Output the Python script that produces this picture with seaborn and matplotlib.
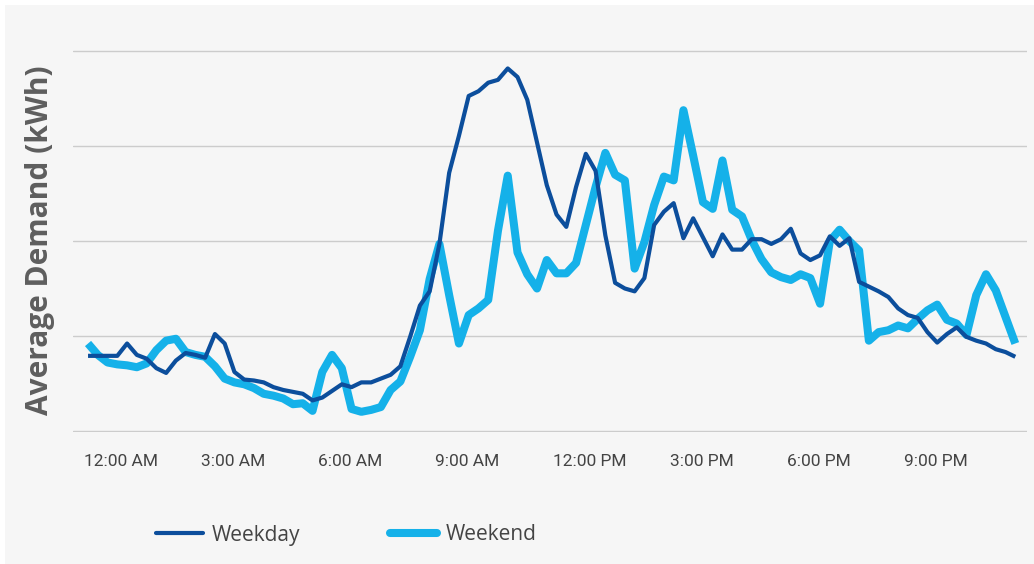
import matplotlib.pyplot as plt
import matplotlib.transforms as mtransforms
import pandas as pd
import seaborn as sns
from matplotlib.patches import Rectangle

# Data: 15-minute intervals over one day (96 points)
weekday = [
    0.79, 0.79, 0.79, 0.79, 0.92, 0.80, 0.76, 0.66, 0.61, 0.74,
    0.82, 0.80, 0.77, 1.02, 0.92, 0.62, 0.54, 0.53, 0.51, 0.46,
    0.43, 0.41, 0.39, 0.32, 0.35, 0.42, 0.49, 0.46, 0.51, 0.51,
    0.55, 0.59, 0.68, 0.99, 1.32, 1.47, 1.97, 2.72, 3.11, 3.53,
    3.58, 3.67, 3.70, 3.82, 3.73, 3.49, 3.04, 2.59, 2.28, 2.15,
    2.57, 2.92, 2.74, 2.06, 1.56, 1.50, 1.47, 1.61, 2.17, 2.31,
    2.40, 2.03, 2.24, 2.04, 1.84, 2.07, 1.91, 1.91, 2.02, 2.02,
    1.97, 2.02, 2.13, 1.87, 1.80, 1.85, 2.05, 1.95, 2.03, 1.57,
    1.52, 1.47, 1.41, 1.29, 1.22, 1.19, 1.04, 0.93, 1.02, 1.09,
    0.99, 0.95, 0.92, 0.86, 0.83, 0.78,
]
weekend = [
    0.92, 0.80, 0.72, 0.70, 0.69, 0.67, 0.71, 0.85, 0.95, 0.97,
    0.83, 0.80, 0.78, 0.68, 0.55, 0.51, 0.49, 0.45, 0.39, 0.37,
    0.34, 0.28, 0.29, 0.21, 0.62, 0.80, 0.66, 0.23, 0.20, 0.22,
    0.25, 0.43, 0.52, 0.78, 1.06, 1.60, 1.97, 1.43, 0.92, 1.22,
    1.29, 1.38, 2.11, 2.69, 1.88, 1.65, 1.50, 1.80, 1.66, 1.66,
    1.77, 2.17, 2.57, 2.93, 2.70, 2.64, 1.71, 1.99, 2.38, 2.68,
    2.64, 3.38, 2.90, 2.41, 2.34, 2.85, 2.33, 2.26, 2.01, 1.81,
    1.67, 1.62, 1.59, 1.65, 1.61, 1.34, 2.00, 2.12, 2.00, 1.90,
    0.95, 1.04, 1.06, 1.11, 1.08, 1.18, 1.27, 1.33, 1.17, 1.13,
    1.01, 1.43, 1.65, 1.48, 1.20, 0.92,
]
tick_labels = ["12:00 AM", "3:00 AM", "6:00 AM", "9:00 AM",
               "12:00 PM", "3:00 PM", "6:00 PM", "9:00 PM"]
tick_pos = [i * 12 for i in range(len(tick_labels))]

df = pd.DataFrame({
    "interval": list(range(len(weekday))) * 2,
    "demand": weekday + weekend,
    "type": ["Weekday"] * len(weekday) + ["Weekend"] * len(weekend),
})

sns.set_theme(style="white")
plt.rcParams["font.family"] = ["Roboto", "DejaVu Sans"]

W, H = 1034, 564
fig = plt.figure(figsize=(W / 100, H / 100), dpi=100, facecolor="white")
fig.patches.append(Rectangle((5 / W, 0), 1 - 5 / W, 1 - 5 / H,
                             transform=fig.transFigure, facecolor="#f6f6f6",
                             edgecolor="none", zorder=-10))

# axes spans gridline y=0 at px 430.7 to y=4 at px 50.7
ax = fig.add_axes([73 / W, 1 - 432 / H, (1027 - 73) / W, (432 - 49.5) / H])
ax.set_facecolor("none")

colors = {"Weekday": "#0c4e9c", "Weekend": "#15b1e9"}
widths = {"Weekday": 3.0, "Weekend": 5.8}
for name in ["Weekend", "Weekday"]:
    sns.lineplot(data=df[df["type"] == name], x="interval", y="demand",
                 color=colors[name], linewidth=widths[name], ax=ax,
                 solid_joinstyle="round", solid_capstyle="butt",
                 label=name, legend=False)

ax.set_xlim(-1.54, 96.2)
ax.set_ylim(-0.013, 4.02)
ax.set_yticks([0, 1, 2, 3, 4])
ax.set_yticklabels([])
ax.yaxis.grid(True, color="#cccccc", linewidth=1)
ax.set_xticks(tick_pos)
ax.set_xticklabels(tick_labels, ha="left", fontsize=12.5, color="#444444")
ax.tick_params(axis="x", length=0, pad=16)
ax.tick_params(axis="y", length=0)
shift = mtransforms.ScaledTranslation(-4 / 100, 0, fig.dpi_scale_trans)
for lab in ax.get_xticklabels():
    lab.set_transform(lab.get_transform() + shift)
for s in ax.spines.values():
    s.set_visible(False)
ax.set_xlabel("")
ax.set_ylabel("")

fig.text(40 / W, 1 - 240 / H, "Average Demand (kWh)", rotation=90,
         ha="center", va="center", fontsize=21.5, fontweight="bold",
         color="#5e5e5e", family=["Open Sans", "DejaVu Sans"])

handles, labels = ax.get_legend_handles_labels()
order = [labels.index("Weekday"), labels.index("Weekend")]
leg = fig.legend([handles[i] for i in order], [labels[i] for i in order],
                 loc="center left", bbox_to_anchor=(156 / W, 1 - 535 / H),
                 ncol=2, frameon=False,
                 prop={"family": ["Open Sans", "DejaVu Sans"], "size": 15},
                 handlelength=2.25, handletextpad=0.42, columnspacing=4.3,
                 borderpad=0, borderaxespad=0)
for t in leg.get_texts():
    t.set_color("#444444")
for h in leg.get_lines():
    h.set_solid_capstyle("round")

fig.savefig("out.png", dpi=100, facecolor=fig.get_facecolor())
